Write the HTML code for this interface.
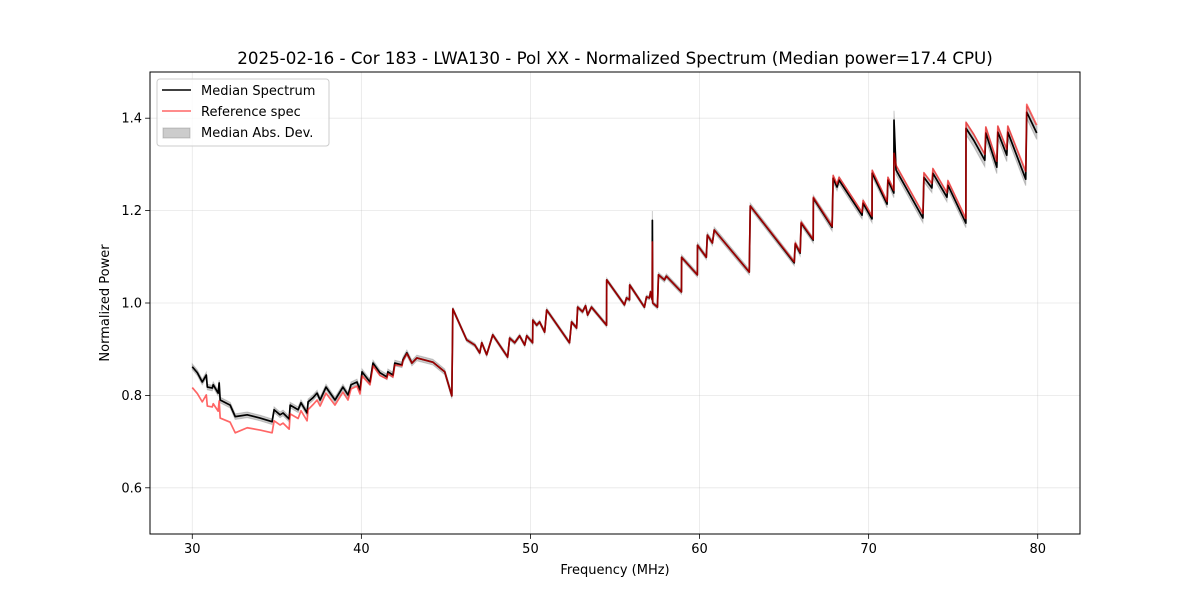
<!DOCTYPE html>
<html><head><meta charset="utf-8"><style>
body{margin:0;background:#fff;}
svg{display:block;font-family:"DejaVu Sans","Liberation Sans",sans-serif;}
</style></head><body>
<svg id="chart" width="1200" height="600" viewBox="0 0 1200 600">
<rect x="0" y="0" width="1200" height="600" fill="#fff"/>
<g id="grid"></g>
<g id="series"></g>
<rect x="150" y="72" width="930" height="462" fill="none" stroke="#000" stroke-width="1"/>
<g id="ticks"></g>
<text x="615" y="64" text-anchor="middle" font-size="16.7">2025-02-16 - Cor 183 - LWA130 - Pol XX - Normalized Spectrum (Median power=17.4 CPU)</text>
<text x="615" y="574" text-anchor="middle" font-size="13">Frequency (MHz)</text>
<text x="109" y="303" text-anchor="middle" font-size="13" transform="rotate(-90 109 303)">Normalized Power</text>
<g>
<rect x="157" y="79" width="172" height="67" rx="3" fill="#fff" fill-opacity="0.8" stroke="#ccc"/>
<line x1="162" y1="90" x2="191" y2="90" stroke="#000" stroke-width="1.5"/>
<text x="201" y="95" font-size="13">Median Spectrum</text>
<line x1="162" y1="111" x2="191" y2="111" stroke="red" stroke-opacity="0.6" stroke-width="1.5"/>
<text x="201" y="116" font-size="13">Reference spec</text>
<rect x="163" y="128" width="27" height="10" fill="#808080" fill-opacity="0.4" stroke="#808080" stroke-opacity="0.4"/>
<text x="201" y="137" font-size="13">Median Abs. Dev.</text>
</g>
</svg>
<script>
const freqs=[30.00,30.30,30.59,30.83,30.89,31.18,31.24,31.53,31.59,31.65,
32.24,32.54,33.25,34.01,34.72,34.84,35.19,35.37,35.73,35.79,
36.26,36.43,36.79,36.85,37.14,37.38,37.56,37.91,38.44,38.91,
39.21,39.39,39.74,39.92,40.04,40.51,40.69,41.10,41.51,41.57,
41.87,41.98,42.40,42.46,42.69,42.99,43.28,44.23,44.93,45.35,
45.41,46.23,46.71,47.00,47.12,47.41,47.77,48.65,48.77,49.07,
49.36,49.66,49.78,50.13,50.14,50.37,50.54,50.84,50.96,52.31,
52.43,52.73,52.79,53.08,53.26,53.38,53.61,54.50,54.51,55.56,
55.68,55.86,55.87,56.74,56.86,57.04,57.10,57.20,57.21,57.23,
57.51,57.57,57.92,58.04,58.93,58.94,59.87,59.88,60.40,60.46,
60.76,60.87,62.94,63.00,65.60,65.66,65.95,66.01,66.72,66.73,
67.84,67.90,68.13,68.25,69.61,69.67,70.20,70.21,71.09,71.14,
71.49,71.50,71.62,73.21,73.27,73.74,73.80,74.63,74.69,75.75,
75.76,76.22,76.87,76.93,77.58,77.64,78.17,78.23,79.29,79.35,
79.94];
const medianSpec=[0.862,0.849,0.829,0.844,0.818,0.816,0.823,0.805,0.827,0.790,
0.779,0.754,0.758,0.751,0.743,0.769,0.758,0.762,0.749,0.779,
0.769,0.784,0.762,0.786,0.795,0.805,0.790,0.818,0.790,0.818,
0.801,0.823,0.829,0.812,0.851,0.829,0.870,0.849,0.840,0.851,
0.844,0.870,0.866,0.877,0.892,0.870,0.881,0.872,0.851,0.799,
0.987,0.920,0.909,0.892,0.914,0.888,0.931,0.883,0.924,0.914,
0.929,0.909,0.929,0.914,0.963,0.952,0.959,0.937,0.985,0.914,
0.959,0.946,0.991,0.981,0.994,0.974,0.991,0.952,1.050,0.996,
1.011,1.007,1.039,0.991,1.013,1.011,1.024,1.007,1.179,1.000,
0.991,1.061,1.050,1.058,1.024,1.099,1.061,1.125,1.099,1.147,
1.130,1.158,1.067,1.210,1.087,1.128,1.108,1.173,1.136,1.227,
1.164,1.270,1.251,1.266,1.190,1.216,1.182,1.281,1.214,1.266,
1.238,1.396,1.288,1.184,1.272,1.249,1.281,1.229,1.255,1.173,
1.378,1.352,1.309,1.368,1.294,1.370,1.320,1.370,1.268,1.413,
1.368];
const refDelta=[-.045,-.045,-.043,-.043,-.041,-.041,-.041,-.039,-.039,-.039,
-.037,-.035,-.028,-.026,-.024,-.024,-.022,-.022,-.022,-.019,
-.019,-.017,-.017,-.017,-.015,-.015,-.013,-.013,-.011,-.011,
-.011,-.009,-.009,-.009,-.009,-.006,-.006,-.006,-.004,-.004,
-.004,-.004,-.002,-.002,-.002,0,0,0,0,0,
0,0,0,0,0,0,0,0,0,0,
0,0,0,0,0,0,0,0,0,0,
0,0,0,0,0,0,0,0,0,0,
0,0,0,0,0,0,0,0,-.047,0,
0,0,0,0,0,0,0,0,0,0,
0,0,0,0,.002,.002,.002,.002,.002,.002,
.002,.006,.006,.006,.006,.006,.006,.006,.006,.006,
.006,-.072,.010,.010,.010,.010,.010,.010,.010,.010,
.013,.013,.013,.013,.013,.013,.013,.013,.017,.017,
.017];
const madVals=[.006,.006,.006,.006,.006,.006,.006,.006,.006,.006,
.006,.006,.006,.006,.006,.006,.006,.006,.006,.006,
.006,.006,.006,.006,.006,.006,.006,.006,.006,.006,
.006,.006,.006,.006,.006,.006,.006,.006,.006,.006,
.006,.006,.006,.006,.006,.006,.006,.006,.006,.006,
.004,.004,.004,.004,.004,.004,.004,.004,.004,.004,
.004,.004,.004,.004,.004,.004,.004,.004,.004,.004,
.004,.004,.004,.004,.004,.004,.004,.004,.004,.004,
.004,.004,.004,.004,.004,.004,.004,.004,.020,.004,
.004,.005,.005,.005,.005,.005,.005,.005,.005,.005,
.006,.006,.006,.006,.006,.006,.006,.006,.006,.006,
.008,.008,.008,.008,.008,.008,.008,.008,.008,.008,
.010,.020,.010,.010,.010,.010,.010,.010,.010,.010,
.014,.014,.014,.014,.014,.014,.014,.014,.014,.014,
.014];
const xTicks=[30,40,50,60,70,80];
const yTicks=[0.6,0.8,1.0,1.2,1.4];
const yTickLabels=["0.6","0.8","1.0","1.2","1.4"];

const NS='http://www.w3.org/2000/svg';
const X0=150,X1=1080,Y0=72,Y1=534,XMIN=27.5,XMAX=82.5,YMIN=0.5,YMAX=1.5;
function xs(f){return X0+(f-XMIN)/(XMAX-XMIN)*(X1-X0);}
function ys(v){return Y1-(v-YMIN)/(YMAX-YMIN)*(Y1-Y0);}
function mk(tag,attrs,parent){const e=document.createElementNS(NS,tag);for(const k in attrs)e.setAttribute(k,attrs[k]);parent.appendChild(e);return e;}
const grid=document.getElementById('grid'),ticks=document.getElementById('ticks'),series=document.getElementById('series');
xTicks.forEach(t=>{const x=xs(t);
 const g=mk('line',{x1:x,x2:x,y1:Y0,y2:Y1,stroke:'#b0b0b0','stroke-opacity':0.3,'stroke-width':0.8},grid);
 
 
 const tk=mk('line',{x1:x,x2:x,y1:Y1,y2:Y1+4.9,stroke:'#000','stroke-width':0.8},ticks);
 
 
 const tx=mk('text',{x:x,y:Y1+19,'text-anchor':'middle','font-size':13},ticks);
 tx.textContent=String(t);
 
 
});
yTicks.forEach((t,i)=>{const y=ys(t);
 const g=mk('line',{x1:X0,x2:X1,y1:y,y2:y,stroke:'#b0b0b0','stroke-opacity':0.3,'stroke-width':0.8},grid);
 
 
 const tk=mk('line',{x1:X0-4.9,x2:X0,y1:y,y2:y,stroke:'#000','stroke-width':0.8},ticks);
 
 
 const tx=mk('text',{x:X0-8,y:y+4.5,'text-anchor':'end','font-size':13},ticks);
 tx.textContent=yTickLabels[i];
 
 
});
let up=[],dn=[],med=[],ref=[];
freqs.forEach((f,i)=>{const m=medianSpec[i];
 up.push(xs(f).toFixed(2)+','+ys(m+madVals[i]).toFixed(2));
 dn.unshift(xs(f).toFixed(2)+','+ys(m-madVals[i]).toFixed(2));
 med.push(xs(f).toFixed(2)+','+ys(m).toFixed(2));
 ref.push(xs(f).toFixed(2)+','+ys(m+refDelta[i]).toFixed(2));
});
const band=mk('polygon',{points:up.concat(dn).join(' '),fill:'#808080','fill-opacity':0.4,stroke:'#808080','stroke-opacity':0.4,'stroke-width':1},series);


const ml=mk('polyline',{points:med.join(' '),fill:'none',stroke:'#000','stroke-width':1.7,'stroke-linejoin':'round'},series);


const rl=mk('polyline',{points:ref.join(' '),fill:'none',stroke:'red','stroke-opacity':0.6,'stroke-width':1.7,'stroke-linejoin':'round'},series);


</script>
</body></html>
